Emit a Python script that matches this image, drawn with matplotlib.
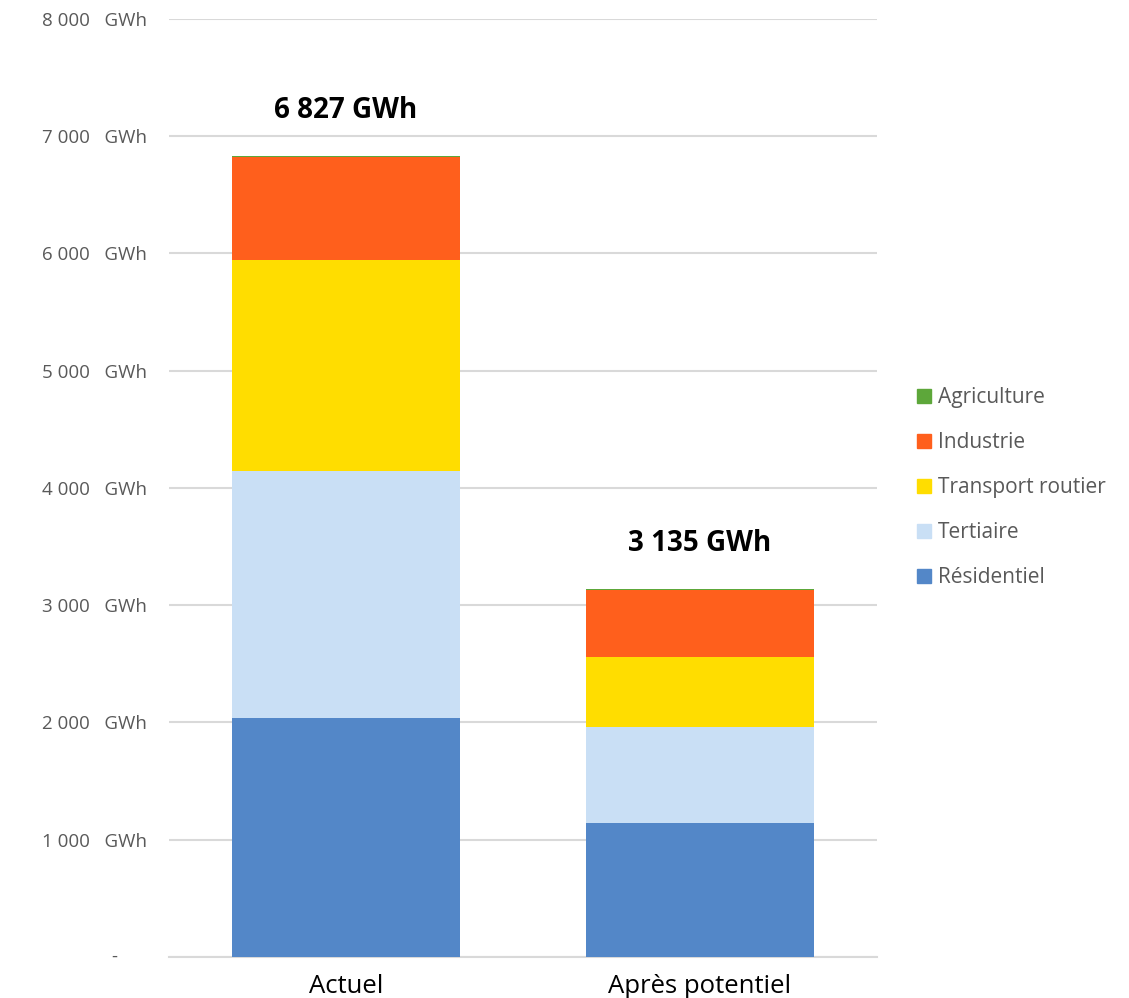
import matplotlib.pyplot as plt
from matplotlib.patches import Patch
import numpy as np

# values (GWh)
categories = ["Actuel", "Après potentiel"]
sectors = ["Résidentiel", "Tertiaire", "Transport routier", "Industrie", "Agriculture"]
residentiel = [2035, 1145]
tertiaire = [2110, 820]
transport = [1800, 595]
industrie = [879, 572]
agriculture = [3, 3]
totals = [6827, 3135]
yticks = [0, 1000, 2000, 3000, 4000, 5000, 6000, 7000, 8000]

colors = ["#5387C8", "#C9DFF5", "#FFDD00", "#FF5F1C", "#5DA73A"]
gray = "#595959"

plt.rcParams['font.family'] = ['Open Sans', 'DejaVu Sans']

fig = plt.figure(figsize=(11.29, 9.98), dpi=100)
ax = fig.add_axes([0.1497, 0.0411, 0.627, 0.94])

x = np.arange(len(categories))
series = [residentiel, tertiaire, transport, industrie, agriculture]
bottom = np.zeros(len(categories))
for vals, col in zip(series, colors):
    ax.bar(x, vals, width=0.646, bottom=bottom, color=col, zorder=3)
    bottom += np.array(vals)

for xi, t in zip(x, totals):
    ax.annotate(f"{t:,} GWh".replace(",", " "), xy=(xi, t), xytext=(0, 33),
                textcoords="offset points", ha="center", va="center",
                fontsize=20, fontweight="bold", color="black")

ax.set_xlim(-0.5, 1.5)
ax.set_ylim(0, 8000)
ax.set_yticks(yticks)
ax.set_yticklabels([f"{v:,}".replace(",", " ") + "   GWh" if v else "" for v in yticks],
                   fontsize=13.5, color=gray)
ax.text(-0.077, 0, "-", transform=ax.get_yaxis_transform(), ha="center", va="center",
        fontsize=13.5, color=gray)
ax.tick_params(axis="y", length=0, pad=16)
ax.set_xticks(x)
ax.set_xticklabels(categories, fontsize=18.5, color="black")
ax.tick_params(axis="x", length=0, pad=12)

ax.grid(axis="y", color="#D9D9D9", linewidth=1.5, zorder=0)
for s in ["top", "right", "left"]:
    ax.spines[s].set_visible(False)
ax.spines["bottom"].set_color("#D9D9D9")
ax.spines["bottom"].set_linewidth(1.5)

handles = [Patch(color=c, label=s) for s, c in zip(sectors, colors)][::-1]
leg = fig.legend(handles=handles, loc="center left", bbox_to_anchor=(0.7956, 0.5115),
                 frameon=False, fontsize=15, handlelength=0.65, handleheight=0.65,
                 handletextpad=0.35, labelspacing=1.15, labelcolor=gray)

fig.savefig("out.png", dpi=100)
